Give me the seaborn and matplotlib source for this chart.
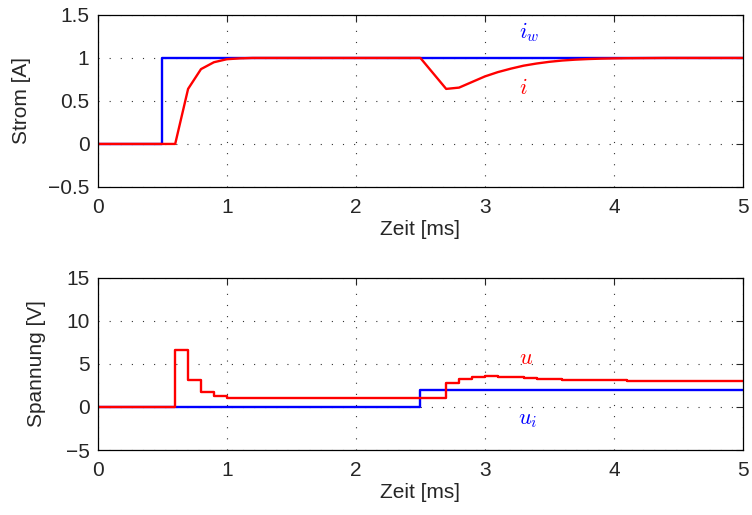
import numpy as np
import pandas as pd
import matplotlib
matplotlib.use("Agg")
import matplotlib.pyplot as plt
import seaborn as sns

# sample times [ms], 0.1 ms steps
zeit = np.round(np.arange(0, 51) * 0.1, 1)

# Sollstrom i_w [A]
i_w = [0, 0, 0, 0, 0] + [1] * 46

# Strom i [A]
i_ist = [0, 0, 0, 0, 0, 0, 0, 0.64, 0.87, 0.95,
         0.985, 0.995, 1, 1, 1, 1, 1, 1, 1, 1,
         1, 1, 1, 1, 1, 1, 0.82, 0.64, 0.655, 0.72,
         0.785, 0.835, 0.875, 0.91, 0.935, 0.955, 0.97, 0.98, 0.987, 0.992,
         0.995, 0.997, 0.998, 0.999, 1, 1, 1, 1, 1, 1,
         1]

# Spannung u [V]
u = [0, 0, 0, 0, 0, 0, 6.6, 3.1, 1.7, 1.25,
     1.07, 1.02, 1.0, 1.0, 1.0, 1.0, 1.0, 1.0, 1.0, 1.0,
     1.0, 1.0, 1.0, 1.0, 1.0, 1.0, 1.0, 2.8, 3.3, 3.5,
     3.55, 3.5, 3.42, 3.35, 3.28, 3.22, 3.18, 3.14, 3.11, 3.09,
     3.07, 3.06, 3.05, 3.04, 3.03, 3.03, 3.02, 3.02, 3.02, 3.02,
     3.02]

# induzierte Spannung u_i [V]
u_i = [0] * 25 + [2] * 26

df = pd.DataFrame({"t": zeit, "iw": i_w, "i": i_ist, "u": u, "ui": u_i})

sns.set_style("white")
plt.rcParams["font.family"] = ["Liberation Sans", "DejaVu Sans"]
plt.rcParams["mathtext.fontset"] = "cm"
plt.rcParams["axes.unicode_minus"] = True

fig = plt.figure(figsize=(7.52, 5.15), dpi=100)
ax1 = fig.add_axes([0.130, 0.637, 0.858, 0.334])
ax2 = fig.add_axes([0.130, 0.126, 0.858, 0.335])

lw = 1.7
sns.lineplot(data=df, x="t", y="iw", ax=ax1, color="#0000ff", lw=lw, drawstyle="steps-post")
sns.lineplot(data=df, x="t", y="i", ax=ax1, color="#ff0000", lw=lw)
sns.lineplot(data=df, x="t", y="ui", ax=ax2, color="#0000ff", lw=lw, drawstyle="steps-post")
sns.lineplot(data=df, x="t", y="u", ax=ax2, color="#ff0000", lw=lw, drawstyle="steps-post")

fs = 15
ax1.text(3.34, 1.3, "$i_w$", color="#0000ff", fontsize=16, ha="center", va="center")
ax1.text(3.3, 0.64, "$i$", color="#ff0000", fontsize=16, ha="center", va="center")
ax2.text(3.32, 5.6, "$u$", color="#ff0000", fontsize=16, ha="center", va="center")
ax2.text(3.33, -1.4, "$u_i$", color="#0000ff", fontsize=16, ha="center", va="center")

ax1.set_ylim(-0.5, 1.5)
ax1.set_yticks([-0.5, 0, 0.5, 1, 1.5])
ax1.set_yticklabels(["\u22120.5", "0", "0.5", "1", "1.5"])
ax1.set_ylabel("Strom [A]", fontsize=fs, labelpad=12)

ax2.set_ylim(-5, 15)
ax2.set_yticks([-5, 0, 5, 10, 15])
ax2.set_ylabel("Spannung [V]", fontsize=fs, labelpad=14)

for ax in (ax1, ax2):
    ax.set_xlim(0, 5)
    ax.set_xticks([0, 1, 2, 3, 4, 5])
    ax.set_xlabel("Zeit [ms]", fontsize=fs, labelpad=2)
    ax.grid(True, color="#333333", linestyle=(0, (1, 9)), linewidth=0.8)
    ax.tick_params(direction="in", top=True, right=True, labelsize=fs,
                   length=5, width=0.8)
    ax.tick_params(axis="x", pad=8)
    ax.tick_params(axis="y", pad=6)
    for s in ax.spines.values():
        s.set_visible(True)
        s.set_color("black")
        s.set_linewidth(0.9)

fig.savefig("out.png", dpi=100)
